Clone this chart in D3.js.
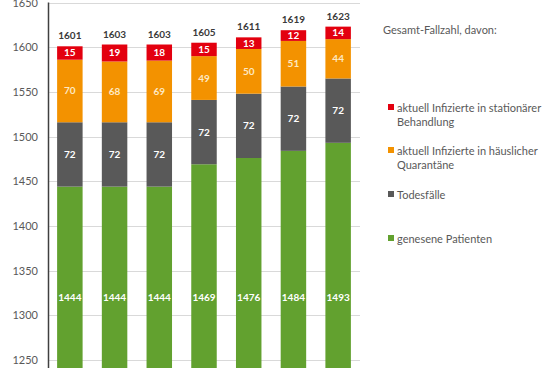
<!DOCTYPE html>
<html><head><meta charset="utf-8">
<script src="https://cdn.jsdelivr.net/npm/d3@7"></script>
<style>body{margin:0;background:#fff}svg{display:block;font-family:Lato,"Open Sans",sans-serif}</style>
</head><body><svg id="c" width="552" height="368"></svg>
<script>
const categories = ["1","2","3","4","5","6","7"];
const genesen = [1444,1444,1444,1469,1476,1484,1493];
const tode = [72,72,72,72,72,72,72];
const quarantaene = [70,68,69,49,50,51,44];
const stationaer = [15,19,18,15,13,12,14];
const yTicks = [1250,1300,1350,1400,1450,1500,1550,1600,1650];
const seriesNames = ["genesene Patienten","Todesfälle","aktuell Infizierte in häuslicher Quarantäne","aktuell Infizierte in stationärer Behandlung"];
const colors = ["#62a12f","#595959","#f39200","#e3000f"];
const legendTitle = "Gesamt-Fallzahl, davon:";

const svg = d3.select("#c");
const W = 552, H = 368;
const x = d3.scaleBand().domain(categories).range([47.5, 360.5]).paddingInner(0.43).paddingOuter(0.215);
const y = d3.scaleLinear().domain([1250,1650]).range([360,2.5]);

const data = categories.map((c,i)=>({cat:c, g:genesen[i], t:tode[i], q:quarantaene[i], s:stationaer[i]}));
const keys = ["g","t","q","s"];
const stacked = d3.stack().keys(keys)(data);

// gridlines
svg.append("g").selectAll("line").data(yTicks).join("line")
  .attr("x1",48).attr("x2",360).attr("y1",d=>Math.round(y(d))+0.5).attr("y2",d=>Math.round(y(d))+0.5)
  .attr("stroke","#d9d9d9").attr("stroke-width",1);

// axis
const ax = svg.append("g").attr("transform","translate(48,0)")
  .call(d3.axisLeft(y).tickValues(yTicks).tickSize(0).tickPadding(10).tickFormat(d3.format("d")));
ax.select(".domain").remove();
ax.selectAll("text").attr("fill","#595959").style("font-size","11px").style("font-family","Lato,sans-serif");
svg.append("line").attr("x1",48.5).attr("x2",48.5).attr("y1",2.5).attr("y2",H).attr("stroke","#404040").attr("stroke-width",1.5);

// bars
const layers = svg.append("g").selectAll("g").data(stacked).join("g").attr("fill",(d,i)=>colors[i]);
layers.selectAll("rect").data(d=>d).join("rect")
  .attr("x",d=>x(d.data.cat)).attr("width",x.bandwidth())
  .attr("y",d=>y(d[1]))
  .attr("height",d=>Math.min(y(d[0]),H+5)-y(d[1]));

// labels inside
stacked.forEach((layer,li)=>{
  svg.append("g").selectAll("text").data(layer).join("text")
    .attr("x",d=>x(d.data.cat)+x.bandwidth()/2)
    .attr("y",d=>{
      const top=y(d[1]); const bot=Math.min(y(d[0]),H);
      if(li===0) return y(1320)+3.5;
      return (top+bot)/2+3.5;})
    .attr("text-anchor","middle").attr("fill", li===2?"#fde9c4":"#fff")
    .style("font-size","10px").style("font-weight","bold")
    .text(d=>d[1]-d[0]);
});

// totals
svg.append("g").selectAll("text").data(data).join("text")
  .attr("x",d=>x(d.cat)+x.bandwidth()/2)
  .attr("y",d=>y(d.g+d.t+d.q+d.s)-7)
  .attr("text-anchor","middle").attr("fill","#3a3a3a")
  .style("font-size","10px").style("font-weight","bold")
  .text(d=>d.g+d.t+d.q+d.s);

// legend
const lg = svg.append("g").style("font-size","11px").attr("fill","#595959");
lg.append("text").attr("x",383).attr("y",34).text(legendTitle);
const legendItems = [
  {c:colors[3], lines:["aktuell Infizierte in stationärer","Behandlung"], y:112},
  {c:colors[2], lines:["aktuell Infizierte in häuslicher","Quarantäne"], y:155},
  {c:colors[1], lines:["Todesfälle"], y:199},
  {c:colors[0], lines:["genesene Patienten"], y:243}
];
legendItems.forEach(it=>{
  lg.append("rect").attr("x",388).attr("y",it.y-8).attr("width",6).attr("height",6).attr("fill",it.c);
  it.lines.forEach((l,k)=>lg.append("text").attr("x",397).attr("y",it.y+k*14).text(l));
});
</script></body></html>
